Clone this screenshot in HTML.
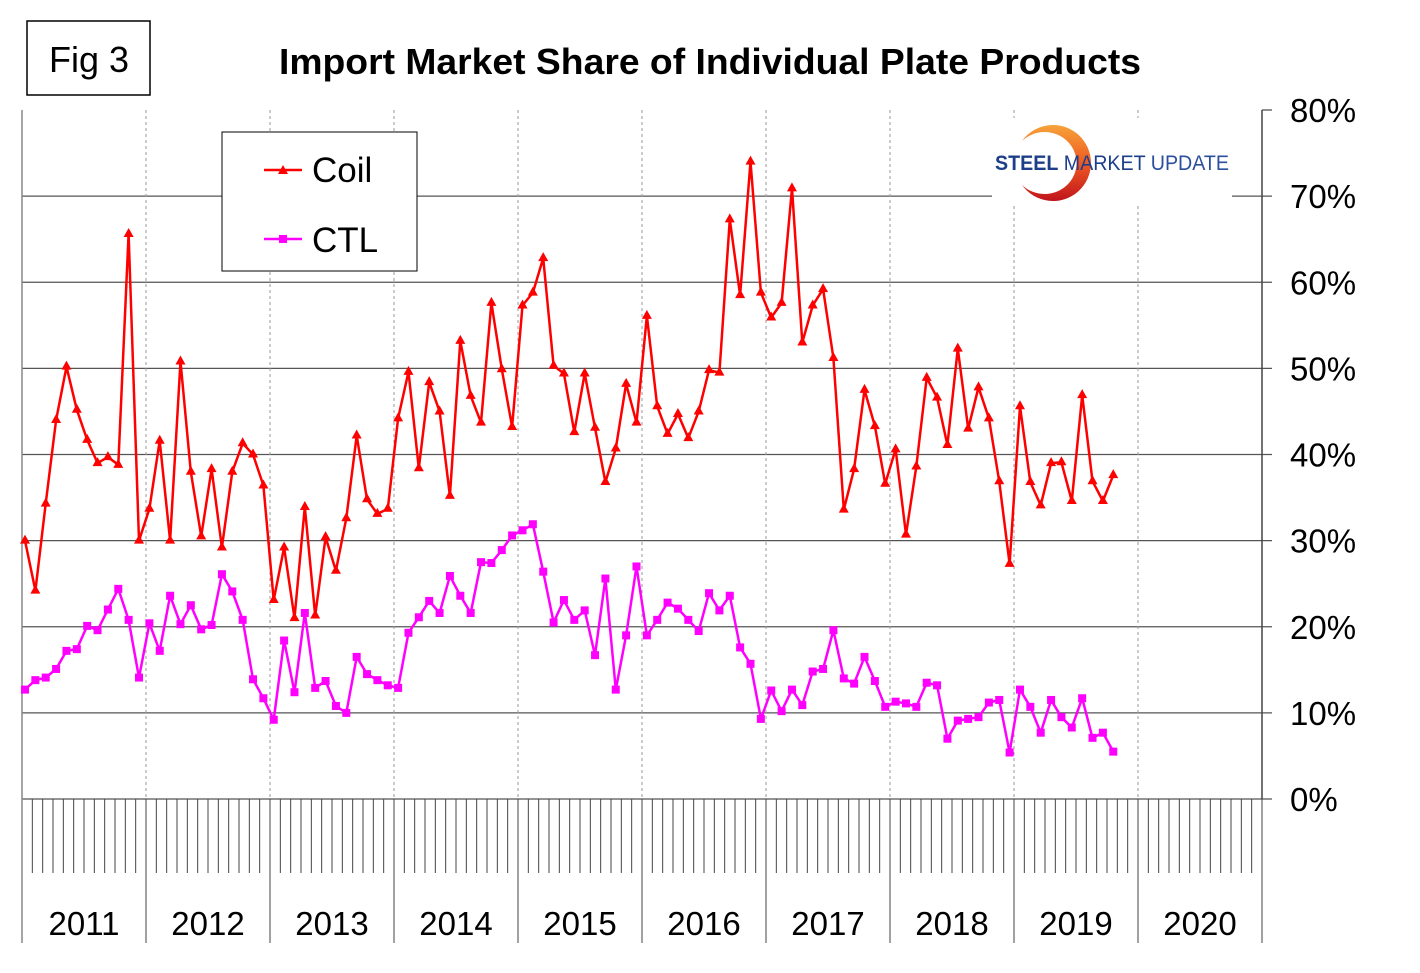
<!DOCTYPE html>
<html><head><meta charset="utf-8"><style>
body{margin:0;background:#fff;}
svg{display:block;font-family:"Liberation Sans",Arial,sans-serif;}
</style></head><body>
<svg id="chart" width="1420" height="973" viewBox="0 0 1420 973">
<defs>
<linearGradient id="arcg" x1="0" y1="0" x2="0" y2="1">
<stop offset="0" stop-color="#f6a33a"/><stop offset="0.5" stop-color="#ee5a22"/><stop offset="1" stop-color="#c0141c"/>
</linearGradient>
</defs>
<rect x="27" y="21" width="123" height="74" fill="none" stroke="#000" stroke-width="1.5"/>
<text x="89" y="72" font-size="36" text-anchor="middle">Fig 3</text>
<text x="710" y="74" font-size="36" font-weight="bold" text-anchor="middle" textLength="862" lengthAdjust="spacingAndGlyphs">Import Market Share of Individual Plate Products</text>
<g id="grid"></g>
<g id="axes"></g>
<g id="series"></g>
<g>
<rect x="992" y="118" width="240" height="86" fill="#fff"/>
<path d="M1022,141 A38,38 0 1,1 1022,185 A32,31 0 1,0 1022,141 Z" fill="url(#arcg)"/>
<text x="995" y="170" font-size="21" textLength="234" lengthAdjust="spacingAndGlyphs" fill="#1d3f8a"><tspan font-weight="bold">STEEL</tspan> MARKET <tspan fill="#2b4f9c">UPDATE</tspan></text>
</g>
<g>
<rect x="222" y="132" width="195" height="139" fill="#fff" stroke="#000" stroke-width="1"/>
<line x1="264" y1="170" x2="302" y2="170" stroke="#f00" stroke-width="2.5"/>
<path d="M283,165 L288,174 L278,174 Z" fill="#f00"/>
<text x="312" y="182" font-size="35">Coil</text>
<line x1="264" y1="239" x2="302" y2="239" stroke="#f0f" stroke-width="2.5"/>
<rect x="279" y="235" width="8" height="8" fill="#f0f"/>
<text x="312" y="252" font-size="35">CTL</text>
</g>
</svg>
<script>
const years = ["2011","2012","2013","2014","2015","2016","2017","2018","2019","2020"];
const yTicks = [0,10,20,30,40,50,60,70,80];
const coil = [30.0,24.2,34.3,44,50.2,45.2,41.7,39,39.7,38.8,65.6,30,33.7,41.6,30,50.8,38,30.5,38.3,29.2,38,41.3,40,36.4,23.1,29.2,21,33.9,21.3,30.4,26.5,32.6,42.2,34.8,33.1,33.7,44.2,49.6,38.4,48.4,45,35.2,53.2,46.8,43.7,57.6,49.9,43.2,57.3,58.8,62.8,50.3,49.4,42.6,49.4,43.1,36.8,40.7,48.2,43.7,56.1,45.6,42.4,44.7,41.9,45,49.8,49.5,67.3,58.5,74.0,58.8,55.9,57.6,70.9,53.0,57.3,59.2,51.2,33.6,38.3,47.5,43.3,36.6,40.6,30.7,38.6,48.9,46.6,41.1,52.3,43.0,47.8,44.2,36.9,27.3,45.6,36.8,34.1,39.0,39.1,34.6,46.9,36.9,34.6,37.6];
const ctl = [12.7,13.8,14.1,15.1,17.2,17.4,20.1,19.6,22.0,24.4,20.8,14.1,20.4,17.2,23.6,20.3,22.5,19.7,20.2,26.1,24.1,20.8,13.9,11.7,9.2,18.4,12.4,21.6,12.9,13.7,10.8,10.0,16.5,14.5,13.8,13.2,12.9,19.3,21.1,23.0,21.6,25.9,23.6,21.6,27.5,27.4,28.9,30.6,31.2,31.9,26.4,20.5,23.1,20.8,21.9,16.7,25.6,12.7,19.0,27.0,19.0,20.8,22.8,22.1,20.8,19.5,23.9,21.9,23.6,17.6,15.7,9.3,12.6,10.2,12.7,10.9,14.8,15.1,19.6,14.0,13.4,16.5,13.7,10.7,11.3,11.1,10.7,13.5,13.2,7.0,9.1,9.3,9.5,11.2,11.5,5.4,12.7,10.7,7.7,11.5,9.5,8.3,11.7,7.1,7.7,5.5];

const NS="http://www.w3.org/2000/svg";
const L=22,R=1262,T=110,B=799;
const months=years.length*12, mw=(R-L)/months;
function xs(i){return 25+i*(mw*1.003);}
function ys(v){return B-(v/80)*(B-T);}
function mk(tag,attrs,parent){const e=document.createElementNS(NS,tag);for(const k in attrs)e.setAttribute(k,attrs[k]);parent.appendChild(e);return e;}
const grid=document.getElementById('grid'),axes=document.getElementById('axes'),ser=document.getElementById('series');
yTicks.forEach(t=>{
  const y=ys(t);
  const g=mk('line',{x1:(t===80?R:L),x2:R+10,y1:y,y2:y,stroke:'#555','stroke-width':1.3},grid);
  
  
  const tx=mk('text',{x:1290,y:y+12,'font-size':33},axes);
  tx.textContent=t+'%';
  
  
});
years.forEach((yr,k)=>{
  const x=L+k*12*mw;
  if(k>0){const d=mk('line',{x1:x,x2:x,y1:T,y2:B,stroke:'#999','stroke-width':1,'stroke-dasharray':'3,3'},grid);
  
  }
  const tx=mk('text',{x:x+12*mw/2,y:935,'font-size':33,'text-anchor':'middle'},axes);
  tx.textContent=yr;
  
  
});
for(let m=0;m<=months;m++){
  const x=L+m*mw;
  const yb=(m%12===0)?943:873;
  const tk=mk('line',{x1:x,x2:x,y1:B,y2:yb,stroke:'#444','stroke-width':1},axes);
  
  
}
mk('line',{x1:L,x2:L,y1:T,y2:943,stroke:'#888','stroke-width':1.5},axes);
mk('line',{x1:R,x2:R,y1:T,y2:B,stroke:'#444','stroke-width':1.5},axes);
function drawSeries(data,color,shape,name){
  const pts=data.map((v,i)=>xs(i).toFixed(1)+','+ys(v).toFixed(1)).join(' ');
  const pl=mk('polyline',{points:pts,fill:'none',stroke:color,'stroke-width':2.5,'stroke-linejoin':'round'},ser);
  
  
  data.forEach((v,i)=>{
    const x=xs(i),y=ys(v);let m;
    if(shape==='tri') m=mk('path',{d:`M${x},${y-6} L${x+5},${y+3} L${x-5},${y+3} Z`,fill:color},ser);
    else m=mk('rect',{x:x-4,y:y-4,width:8,height:8,fill:color},ser);
    
    
  });
}
drawSeries(coil,'#ff0000','tri','coil');
drawSeries(ctl,'#ff00ff','sq','ctl');
</script>
</body></html>
